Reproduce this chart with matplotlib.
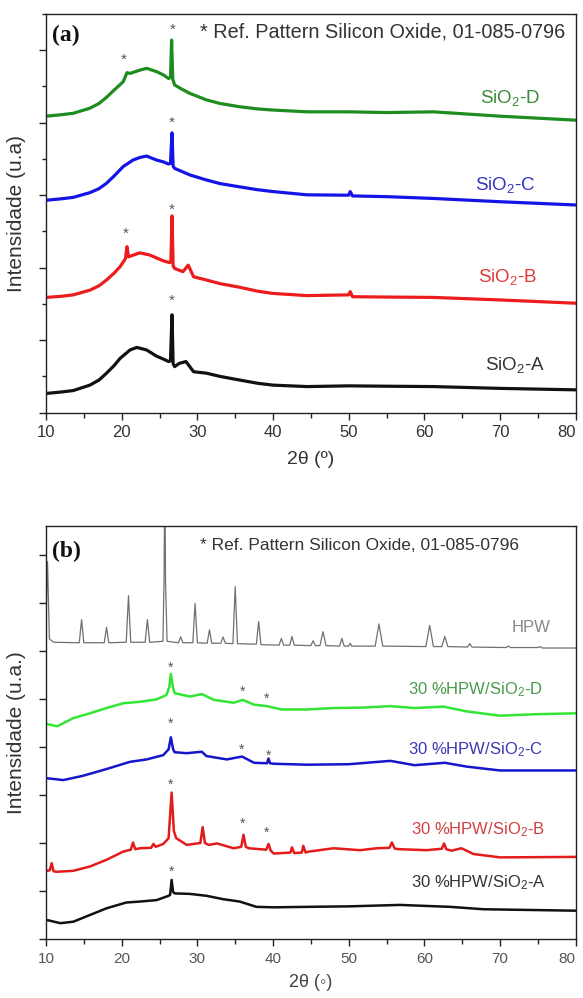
import matplotlib
matplotlib.use('Agg')
import matplotlib.pyplot as plt
from matplotlib.ticker import MultipleLocator, NullFormatter

plt.rcParams['font.family'] = ['Liberation Sans', 'DejaVu Sans']
plt.rcParams['mathtext.fontset'] = 'custom'
plt.rcParams['mathtext.rm'] = 'Liberation Sans'
plt.rcParams['mathtext.it'] = 'Liberation Sans:italic'

# ---------------- Panel (a) data: 2theta (deg) vs stacked intensity (a.u.) ----------------
a_D_x = [10, 12, 13.6, 15.8, 17.0, 18.0, 19.0, 20.2, 20.7, 21.1, 22.4, 23.3, 24.6, 25.5, 26.2, 26.45,
         26.6, 26.75, 27.0, 28.0, 29.0, 31.2, 33.0, 35.6, 38.0, 40.0, 44.5, 50, 55, 61.2, 70, 80]
a_D_y = [8.18, 8.22, 8.26, 8.40, 8.53, 8.70, 8.90, 9.13, 9.38, 9.36, 9.45, 9.50, 9.41, 9.32, 9.22, 9.25,
         10.28, 9.20, 9.04, 8.92, 8.81, 8.63, 8.53, 8.44, 8.38, 8.35, 8.30, 8.30, 8.28, 8.30, 8.18, 8.07]

a_C_x = [10, 12, 13.6, 15.8, 17.0, 18.0, 19.0, 20.2, 21.5, 22.4, 23.3, 24.6, 25.5, 26.2, 26.45, 26.65,
         26.8, 27.0, 28.0, 29.0, 31.2, 33.0, 35.6, 38.0, 40.0, 44.5, 50.0, 50.2, 50.5, 55, 61.2, 70, 80]
a_C_y = [5.86, 5.90, 5.94, 6.07, 6.18, 6.33, 6.53, 6.79, 6.97, 7.04, 7.08, 6.97, 6.92, 6.86, 6.88, 7.72,
         6.80, 6.74, 6.65, 6.56, 6.42, 6.32, 6.23, 6.15, 6.10, 6.01, 6.00, 6.10, 5.98, 5.96, 5.91, 5.82, 5.73]

a_B_x = [10, 12, 13.6, 15.8, 17.0, 18.0, 19.0, 19.8, 20.5, 20.7, 20.9, 22.4, 23.7, 25.5, 26.3, 26.5,
         26.65, 26.8, 27.0, 28.1, 28.8, 29.5, 31.2, 33.0, 35.6, 38.0, 40.0, 44.5, 50.0, 50.2, 50.5,
         55, 61.2, 70, 80]
a_B_y = [3.18, 3.21, 3.25, 3.38, 3.50, 3.66, 3.85, 4.03, 4.25, 4.58, 4.30, 4.41, 4.35, 4.19, 4.14, 4.16,
         5.43, 4.05, 3.98, 3.89, 4.07, 3.75, 3.66, 3.56, 3.46, 3.35, 3.29, 3.23, 3.25, 3.34, 3.20,
         3.19, 3.18, 3.11, 3.02]

a_A_x = [10, 12, 13.6, 15.8, 17.0, 18.0, 19.0, 19.8, 21.1, 22.0, 23.3, 24.6, 25.5, 26.2, 26.45, 26.65,
         26.8, 27.0, 27.6, 28.5, 29.5, 31.2, 33.0, 35.6, 38.0, 40.0, 44.5, 50, 55, 61.2, 70, 80]
a_A_y = [0.53, 0.57, 0.61, 0.76, 0.90, 1.09, 1.30, 1.50, 1.73, 1.80, 1.73, 1.56, 1.48, 1.41, 1.43, 2.70,
         1.35, 1.27, 1.36, 1.41, 1.13, 1.09, 1.00, 0.90, 0.81, 0.76, 0.72, 0.74, 0.73, 0.72, 0.67, 0.63]

a_labels = ['SiO$_2$-D', 'SiO$_2$-C', 'SiO$_2$-B', 'SiO$_2$-A']
a_star_x = [26.7, 20.3, 26.6, 26.6, 20.6, 26.6]
a_star_y = [10.56, 9.73, 7.99, 5.60, 4.93, 3.08]

# ---------------- Panel (b) data ----------------
b_HPW_x = [10.0, 10.2, 10.45, 11, 14.4, 14.7, 15.0, 17.7, 18.0, 18.3, 20.6, 20.9, 21.2, 23.1, 23.4,
           23.7, 25.45, 25.6, 25.7, 25.8, 26.0, 27.5, 27.8, 28.1, 29.4, 29.7, 30.0, 31.3, 31.6,
           31.9, 33.1, 33.4, 33.7, 34.7, 35.0, 35.3, 37.8, 38.1, 38.4, 40.8, 41.1, 41.4, 42.2,
           42.5, 42.8, 45.0, 45.3, 45.6, 46.2, 46.6, 47.0, 48.8, 49.1, 49.4, 50.0, 50.2, 50.4,
           53.5, 54.0, 54.5, 60.2, 60.7, 61.2, 62.3, 62.7, 63.1, 65.7, 66.0, 66.3, 70.8, 71.1,
           71.4, 75.0, 75.3, 75.6, 80]
b_HPW_y = [6.60, 7.86, 6.25, 6.18, 6.17, 6.65, 6.17, 6.17, 6.49, 6.17, 6.18, 7.15, 6.18, 6.18, 6.65,
           6.18, 6.20, 7.48, 9.80, 7.40, 6.20, 6.17, 6.29, 6.17, 6.17, 6.99, 6.17, 6.16, 6.44,
           6.16, 6.16, 6.29, 6.16, 6.15, 7.34, 6.15, 6.14, 6.61, 6.13, 6.12, 6.26, 6.12, 6.12,
           6.30, 6.12, 6.11, 6.21, 6.11, 6.11, 6.40, 6.11, 6.10, 6.26, 6.10, 6.10, 6.16, 6.10,
           6.10, 6.56, 6.10, 6.09, 6.53, 6.09, 6.09, 6.30, 6.09, 6.08, 6.15, 6.08, 6.07, 6.10,
           6.07, 6.07, 6.09, 6.06, 6.06]

b_D_x = [10, 11.5, 13.6, 15.8, 18.0, 20.2, 22.4, 24.6, 25.9, 26.3, 26.5, 26.8, 27.0, 29.0, 30.6,
         32.2, 34.8, 36.0, 37.5, 39.2, 41.1, 44.5, 48.0, 52, 55.5, 58.7, 62.5, 65.6, 70.0, 74.4, 80]
b_D_y = [4.48, 4.43, 4.60, 4.70, 4.81, 4.91, 4.94, 4.99, 5.08, 5.25, 5.52, 5.22, 5.12, 5.05, 5.10,
         4.98, 4.92, 4.98, 4.88, 4.85, 4.78, 4.78, 4.81, 4.82, 4.85, 4.81, 4.84, 4.74, 4.65, 4.68, 4.70]

b_C_x = [10, 12.3, 14.9, 18.0, 21.1, 23.3, 25.5, 26.2, 26.5, 26.8, 27.0, 28.6, 30.6, 31.2, 33.9,
         35.9, 37.5, 39.2, 39.4, 39.6, 40.1, 44.5, 50, 55.5, 58.7, 62.7, 65.6, 70.0, 80]
b_C_y = [3.35, 3.31, 3.40, 3.54, 3.69, 3.74, 3.83, 3.95, 4.20, 3.95, 3.89, 3.87, 3.90, 3.81, 3.74,
         3.80, 3.67, 3.66, 3.76, 3.66, 3.65, 3.63, 3.64, 3.71, 3.62, 3.67, 3.59, 3.51, 3.51]

b_B_x = [10, 10.5, 10.75, 11.0, 11.4, 13.6, 15.8, 18.0, 20.2, 21.2, 21.5, 21.8, 22.4, 23.9, 24.2,
         24.5, 25.5, 26.2, 26.6, 26.9, 27.2, 28.6, 30.4, 30.7, 31.0, 31.5, 32.6, 34.8, 35.8, 36.1,
         36.4, 36.8, 39.1, 39.4, 39.7, 40.1, 42.3, 42.5, 42.8, 43.8, 44.0, 44.3, 44.7, 48.0, 51.5,
         53.7, 55.4, 55.7, 56.1, 56.8, 60.3, 62.3, 62.6, 62.9, 63.6, 64.9, 66.5, 70.0, 80]
b_B_y = [1.42, 1.43, 1.58, 1.41, 1.40, 1.42, 1.51, 1.65, 1.82, 1.86, 2.01, 1.87, 1.89, 1.90, 1.98,
         1.92, 1.98, 2.10, 3.05, 2.25, 2.10, 1.96, 2.00, 2.33, 2.00, 1.96, 1.99, 1.89, 1.92, 2.17,
         1.92, 1.89, 1.86, 1.98, 1.84, 1.78, 1.80, 1.91, 1.79, 1.80, 1.94, 1.80, 1.82, 1.89, 1.85,
         1.89, 1.90, 2.01, 1.88, 1.87, 1.85, 1.88, 1.99, 1.87, 1.84, 1.89, 1.77, 1.70, 1.71]

b_A_x = [10, 11.9, 13.6, 15.8, 18.0, 20.6, 22.4, 24.6, 26.2, 26.4, 26.6, 26.8, 27.0, 29.0, 31.2,
         33.4, 35.6, 37.8, 40.1, 44.5, 50, 56.8, 63.4, 67.8, 80]
b_A_y = [0.40, 0.33, 0.36, 0.50, 0.64, 0.76, 0.78, 0.81, 0.90, 0.92, 1.23, 0.98, 0.95, 0.94, 0.90,
         0.83, 0.78, 0.67, 0.66, 0.67, 0.68, 0.71, 0.67, 0.62, 0.59]

b_labels = ['HPW', '30 %HPW/SiO$_2$-D', '30 %HPW/SiO$_2$-C', '30 %HPW/SiO$_2$-B', '30 %HPW/SiO$_2$-A']
b_star_x = [26.5, 36.0, 39.2, 26.5, 35.8, 39.4, 26.4, 36.0, 39.2, 26.6]
b_star_y = [5.64, 5.15, 5.00, 4.49, 3.94, 3.81, 3.22, 2.40, 2.21, 1.39]

x_ticks = [10, 20, 30, 40, 50, 60, 70, 80]

# ---------------- figure ----------------
fig = plt.figure(figsize=(5.83, 9.98), dpi=100)
axA = fig.add_axes([0.0789, 0.5865, 0.9086, 0.3995])
axB = fig.add_axes([0.0789, 0.0591, 0.9086, 0.4138])

def style_axis(ax, ymax, ymajor, yminor, tick_fs, tick_color, ylen):
    ax.set_xlim(10, 80)
    ax.set_ylim(0, ymax)
    ax.set_xticks(x_ticks)
    ax.xaxis.set_minor_locator(MultipleLocator(5))
    ax.yaxis.set_major_locator(MultipleLocator(ymajor))
    if yminor:
        ax.yaxis.set_minor_locator(MultipleLocator(yminor))
    ax.yaxis.set_major_formatter(NullFormatter())
    ax.tick_params(axis='x', which='major', direction='out', length=5, width=1.0,
                   labelsize=tick_fs, labelcolor=tick_color, pad=4, color='#222222')
    ax.tick_params(axis='x', which='minor', direction='out', length=3.5, width=1.0, color='#222222')
    ax.tick_params(axis='y', which='major', direction='out', length=ylen, width=1.0, color='#222222')
    ax.tick_params(axis='y', which='minor', direction='out', length=ylen * 0.6, width=1.0, color='#222222')
    for s in ax.spines.values():
        s.set_linewidth(1.0)
        s.set_color('#222222')

# Panel (a)
cols_a = ['#1e8c1e', '#1414e6', '#ec1c1c', '#111111']
for xs, ys, c in zip([a_D_x, a_C_x, a_B_x, a_A_x], [a_D_y, a_C_y, a_B_y, a_A_y], cols_a):
    axA.plot(xs, ys, color=c, lw=2.3)
style_axis(axA, 11, 2, 1, 12, '#333333', 5)
axA.set_ylabel('Intensidade (u.a)', fontsize=15, color='#333333')
axA.yaxis.set_label_coords(-0.038, 0.5)
axA.set_xlabel('2θ (º)', fontsize=14, color='#333333')
axA.xaxis.set_label_coords(0.5, -0.095)
axA.text(0.011, 0.945, '(a)', transform=axA.transAxes, fontsize=17, fontweight='bold',
         family='Liberation Serif', ha='left', va='center', color='#111111')
axA.text(0.291, 0.955, '* Ref. Pattern Silicon Oxide, 01-085-0796', transform=axA.transAxes,
         fontsize=14.3, ha='left', va='center', color='#333333')
lab_pos_a = [(0.876, 0.789), (0.866, 0.571), (0.872, 0.340), (0.885, 0.120)]
lab_cols_a = ['#3a8a3a', '#3434c4', '#e03a3a', '#333333']
for t, (px, py), c in zip(a_labels, lab_pos_a, lab_cols_a):
    axA.text(px, py, t, transform=axA.transAxes, fontsize=13.5, ha='center', va='center', color=c)
for sx, sy in zip(a_star_x, a_star_y):
    axA.text(sx, sy, '*', fontsize=11, ha='center', va='center', color='#555555')

# Panel (b)
axB.plot(b_HPW_x, b_HPW_y, color='#707070', lw=0.9)
cols_b = ['#33e633', '#1515cc', '#e41b1b', '#111111']
for xs, ys, c in zip([b_D_x, b_C_x, b_B_x, b_A_x], [b_D_y, b_C_y, b_B_y, b_A_y], cols_b):
    axB.plot(xs, ys, color=c, lw=1.8)
style_axis(axB, 8.6, 1, None, 11, '#555555', 5)
axB.set_ylabel('Intensidade (u.a.)', fontsize=15, color='#333333')
axB.yaxis.set_label_coords(-0.038, 0.5)
axB.set_xlabel('2θ (◦)', fontsize=13, color='#444444')
axB.xaxis.set_label_coords(0.5, -0.085)
axB.text(0.011, 0.939, '(b)', transform=axB.transAxes, fontsize=17, fontweight='bold',
         family='Liberation Serif', ha='left', va='center', color='#111111')
axB.text(0.291, 0.954, '* Ref. Pattern Silicon Oxide, 01-085-0796', transform=axB.transAxes,
         fontsize=12.5, ha='left', va='center', color='#333333')
lab_pos_b = [(0.916, 0.755), (0.810, 0.603), (0.810, 0.458), (0.816, 0.264), (0.816, 0.136)]
lab_cols_b = ['#888888', '#4a9a4a', '#3a3ab0', '#d04040', '#333333']
for t, (px, py), c in zip(b_labels, lab_pos_b, lab_cols_b):
    axB.text(px, py, t, transform=axB.transAxes, fontsize=12, ha='center', va='center', color=c)
for sx, sy in zip(b_star_x, b_star_y):
    axB.text(sx, sy, '*', fontsize=10, ha='center', va='center', color='#555555')

# keep the last x tick label ("80") inside the figure
fig.canvas.draw()
for ax in (axA, axB):
    labs = ax.get_xticklabels()
    labs[-1].set_horizontalalignment('right')

fig.savefig('out.png', dpi=100)
